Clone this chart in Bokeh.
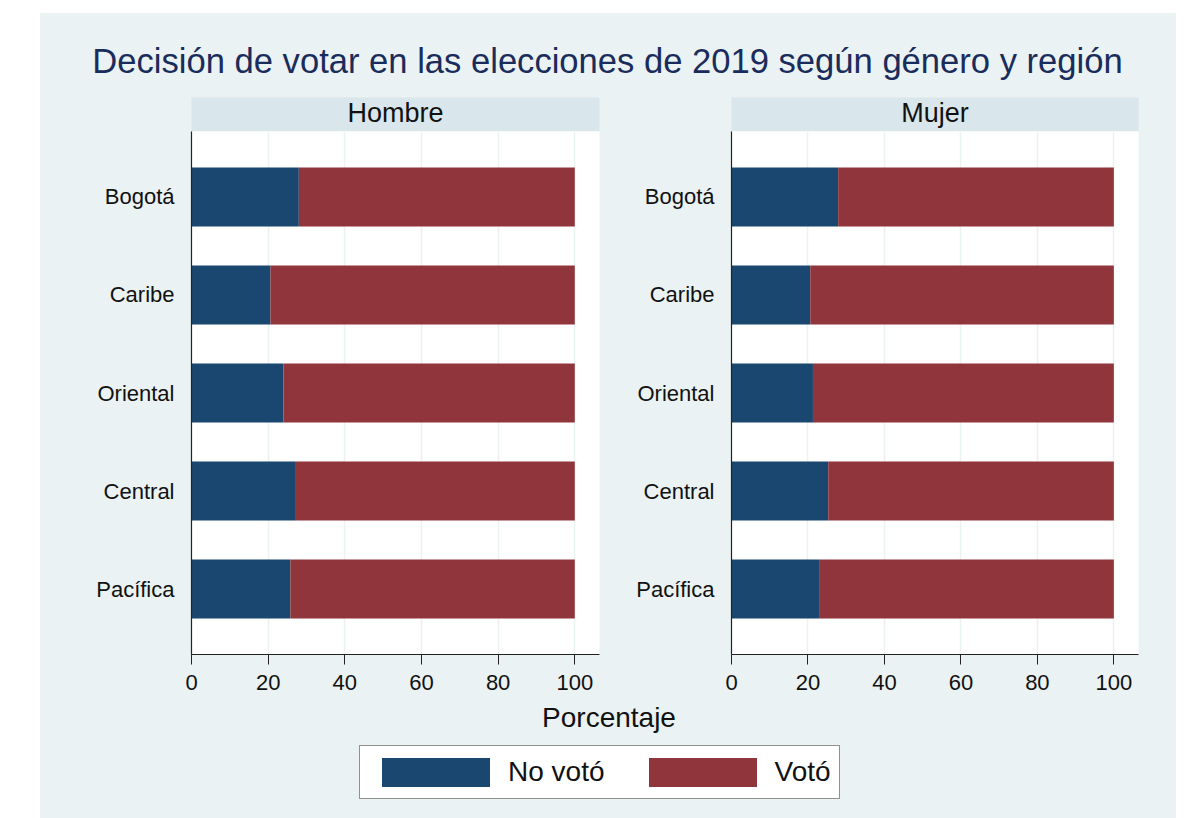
from bokeh.plotting import figure
from bokeh.models import (ColumnDataSource, FactorRange, Range1d, FixedTicker, Label, Spacer)
from bokeh.layouts import row, column
from bokeh.embed import file_html
from bokeh.resources import INLINE

# ---------------- data ----------------
regions = ["Bogotá", "Caribe", "Oriental", "Central", "Pacífica"]
no_voto_hombre = [28.0, 20.6, 24.0, 27.0, 25.8]
voto_hombre = [72.0, 79.4, 76.0, 73.0, 74.2]
no_voto_mujer = [27.9, 20.6, 21.3, 25.3, 23.1]
voto_mujer = [72.1, 79.4, 78.7, 74.7, 76.9]
x_ticks = [0, 20, 40, 60, 80, 100]
series = ["No votó", "Votó"]
panel_titles = ["Hombre", "Mujer"]
title_text = "Decisión de votar en las elecciones de 2019 según género y región"
x_label = "Porcentaje"

# ---------------- style ----------------
BG = "#eaf2f3"
STRIP = "#d9e6eb"
BLUE = "#1a476f"
RED = "#90353b"
NAVY = "#1a2c5b"
FONT = "Liberation Sans"
W = 1136


def blank_fig(width, height, xr, yr, **kw):
    f = figure(width=width, height=height, x_range=xr, y_range=yr,
               x_axis_type=None, y_axis_type=None, toolbar_location=None,
               output_backend="svg", title=None, min_border=0, **kw)
    f.outline_line_color = None
    f.border_fill_color = BG
    f.background_fill_color = BG
    f.xgrid.visible = False
    f.ygrid.visible = False
    return f


# title
title_fig = blank_fig(W, 84, Range1d(0, W), Range1d(0, 84))
title_fig.add_layout(Label(x=W / 2 - 1, y=37, text=title_text, text_align="center",
                           text_baseline="alphabetic", text_font=FONT,
                           text_font_size="34.6px", text_color=NAVY))


def strip_fig(text, width, bl, br):
    fw = width - bl - br
    f = blank_fig(width, 34, Range1d(0, fw), Range1d(0, 34),
                  min_border_left=bl, min_border_right=br)
    f.background_fill_color = STRIP
    f.add_layout(Label(x=fw / 2, y=18.7, text=text, text_align="center",
                       text_baseline="alphabetic", text_font=FONT,
                       text_font_size="27px", text_color="#111111"))
    return f


def panel(no_voto, voto, width, bl, br):
    src = ColumnDataSource(dict(region=regions, no_voto=no_voto, voto=voto))
    f = figure(width=width, height=569, toolbar_location=None, output_backend="svg",
               title=None,
               y_range=FactorRange(factors=list(reversed(regions)),
                                   range_padding=0.168, range_padding_units="absolute"),
               x_range=Range1d(0, 106.45),
               min_border_left=bl, min_border_right=br, min_border_top=0,
               min_border_bottom=46)
    f.hbar_stack(["no_voto", "voto"], y="region", height=0.6, color=[BLUE, RED],
                 line_color=None, source=src)
    f.outline_line_color = None
    f.border_fill_color = BG
    f.background_fill_color = "white"
    f.ygrid.visible = False
    f.xgrid.grid_line_color = BG
    f.xgrid.grid_line_width = 1.5
    f.xaxis.ticker = FixedTicker(ticks=x_ticks)
    f.xgrid.ticker = FixedTicker(ticks=x_ticks)
    for ax in (f.xaxis[0], f.yaxis[0]):
        ax.axis_line_color = "#222222"
        ax.axis_line_width = 1.2
        ax.major_label_text_font = FONT
        ax.major_label_text_font_size = "22px"
        ax.major_label_text_color = "#111111"
        ax.minor_tick_line_color = None
    f.xaxis.major_tick_out = 10
    f.xaxis.major_tick_in = 0
    f.xaxis.major_tick_line_color = "#222222"
    f.xaxis.major_label_standoff = 10
    f.yaxis.major_tick_line_color = None
    f.yaxis.major_tick_out = 0
    f.yaxis.major_tick_in = 0
    f.yaxis.major_label_standoff = 17
    return f


stripL = strip_fig(panel_titles[0], 570, 151, 11)
figL = panel(no_voto_hombre, voto_hombre, 570, 151, 11)
stripR = strip_fig(panel_titles[1], 566, 121, 38)
figR = panel(no_voto_mujer, voto_mujer, 566, 121, 38)

# bottom: axis title + legend
BH = 118
bottom = blank_fig(W, BH, Range1d(0, W), Range1d(0, BH))
bottom.add_layout(Label(x=W / 2 + 0.5, y=101.5, text=x_label, text_align="center",
                        text_baseline="alphabetic", text_font=FONT,
                        text_font_size="28px", text_color="#111111"))
# legend proxies (no visible data)
for name, col in zip(series, [BLUE, RED]):
    bottom.hbar(y=[float("nan")], right=[float("nan")], height=1, fill_color=col,
                line_color=None, legend_label=name)
lg = bottom.legend[0]
lg.orientation = "horizontal"
lg.location = (319, 19)
lg.glyph_width = 135
lg.glyph_height = 36
lg.label_standoff = 5
lg.spacing = 30
lg.padding = 8
lg.margin = 0
lg.label_text_font = FONT
lg.label_text_font_size = "28px"
lg.label_text_color = "#111111"
lg.border_line_color = "#222222"
lg.border_line_width = 1
lg.background_fill_color = "white"
lg.background_fill_alpha = 1.0

main = column(title_fig,
              row(column(stripL, figL, styles={"background-color": BG}),
                  column(stripR, figR, styles={"background-color": BG}),
                  styles={"background-color": BG}),
              bottom, styles={"background-color": BG})
root = row(Spacer(width=40), column(Spacer(height=13), main))

open("out.html", "w").write(file_html(root, INLINE))
